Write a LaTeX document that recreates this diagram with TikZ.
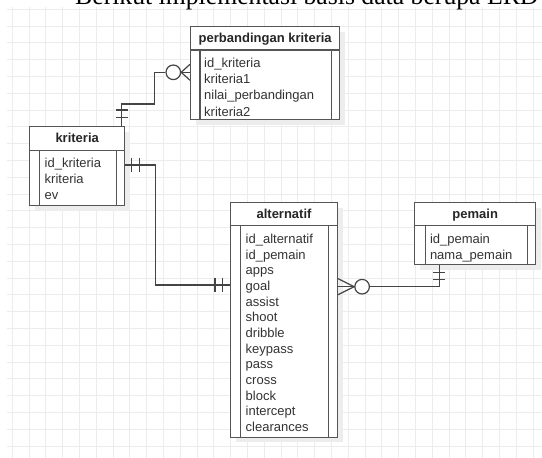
\documentclass[tikz,border=0pt]{standalone}
\usepackage{fontspec}
\setmainfont{Liberation Sans}
\newfontfamily\headfont{Liberation Serif}
\usepackage{tikz}
\usetikzlibrary{calc,shadows}

\definecolor{boxcol}{HTML}{555555}
\definecolor{linecol}{HTML}{444444}
\definecolor{txtcol}{HTML}{333333}
\definecolor{gridcol}{HTML}{ECECEC}

\tikzset{
	gridline/.style={color=gridcol, line width=0.9pt},
	entity/.style={draw=boxcol, fill=white, line width=1.1pt, anchor=north west, inner sep=0pt,
		drop shadow={shadow xshift=5pt, shadow yshift=-5pt, fill=black!7, opacity=1}},
	entityline/.style={draw=boxcol, line width=1.1pt},
	title/.style={anchor=base, inner sep=0pt, text=black!85, font=\fontsize{13}{15}\selectfont\bfseries},
	field/.style={anchor=base west, inner sep=0pt, text=txtcol, font=\fontsize{13}{15}\selectfont},
	rel/.style={draw=linecol, line width=1.2pt},
	zero/.style={circle, draw=linecol, fill=white, line width=1.2pt, minimum size=14.6pt, inner sep=0pt}
}

\begin{document}
\begin{tikzpicture}[x=1pt, y=-1pt]
			%%%%% START %%%%%
			\useasboundingbox (0,0) rectangle (542,458);
			\clip (0,0) rectangle (542,458);
			
			\foreach \i in {0,...,31}
				\draw[gridline] ({12.3+16.8*\i},7) -- ({12.3+16.8*\i},458);
			\foreach \j in {0,...,26}
				\draw[gridline] (7,{9.2+16.8*\j}) -- (542,{9.2+16.8*\j});
			
			\node[anchor=base west, inner sep=0pt, font=\headfont\fontsize{25.7}{30}\selectfont] (head) at (75,4) {Berikut implementasi basis data berupa ERD};
			
			% perbandingan kriteria
			\node[entity, minimum width=149.3pt, minimum height=93.3pt] (perb) at (190,26) {};
			\draw[entityline] ($(perb.north west)+(0,24)$) -- ($(perb.north east)+(0,24)$);
			\draw[entityline] ($(perb.north west)+(10,24)$) -- ($(perb.south west)+(10,0)$);
			\draw[entityline] ($(perb.north east)+(-9,24)$) -- ($(perb.south east)+(-9,0)$);
			\node[title] (perb-t) at ($(perb.north)+(0,16)$) {perbandingan kriteria};
			\foreach \f [count=\i from 0] in {id\_kriteria, kriteria1, nilai\_perbandingan, kriteria2}
				\node[field] (perb-\i) at ($(perb.north west)+(14,{41.5+16.2*\i})$) {\f};
			
			% kriteria
			\node[entity, minimum width=95.3pt, minimum height=79pt] (kriteria) at (29,126) {};
			\draw[entityline] ($(kriteria.north west)+(0,24.7)$) -- ($(kriteria.north east)+(0,24.7)$);
			\draw[entityline] ($(kriteria.north west)+(10.3,24.7)$) -- ($(kriteria.south west)+(10.3,0)$);
			\draw[entityline] ($(kriteria.north east)+(-9.3,24.7)$) -- ($(kriteria.south east)+(-9.3,0)$);
			\node[title] (kriteria-t) at ($(kriteria.north)+(0,16)$) {kriteria};
			\foreach \f [count=\i from 0] in {id\_kriteria, kriteria, ev}
				\node[field] (kriteria-\i) at ($(kriteria.north west)+(15.5,{41.5+16*\i})$) {\f};
			
			% alternatif
			\node[entity, minimum width=107pt, minimum height=234.7pt] (alternatif) at (230,202) {};
			\draw[entityline] ($(alternatif.north west)+(0,23.3)$) -- ($(alternatif.north east)+(0,23.3)$);
			\draw[entityline] ($(alternatif.north west)+(10.7,23.3)$) -- ($(alternatif.south west)+(10.7,0)$);
			\draw[entityline] ($(alternatif.north east)+(-9.3,23.3)$) -- ($(alternatif.south east)+(-9.3,0)$);
			\node[title] (alternatif-t) at ($(alternatif.north)+(0,16)$) {alternatif};
			\foreach \f [count=\i from 0] in {id\_alternatif, id\_pemain, apps, goal, assist, shoot, dribble, keypass, pass, cross, block, intercept, clearances}
				\node[field] (alternatif-\i) at ($(alternatif.north west)+(15.5,{41.5+15.67*\i})$) {\f};
			
			% pemain
			\node[entity, minimum width=120.7pt, minimum height=62pt] (pemain) at (414.3,202) {};
			\draw[entityline] ($(pemain.north west)+(0,23.3)$) -- ($(pemain.north east)+(0,23.3)$);
			\draw[entityline] ($(pemain.north west)+(11,23.3)$) -- ($(pemain.south west)+(11,0)$);
			\draw[entityline] ($(pemain.north east)+(-9,23.3)$) -- ($(pemain.south east)+(-9,0)$);
			\node[title] (pemain-t) at ($(pemain.north)+(0,16)$) {pemain};
			\foreach \f [count=\i from 0] in {id\_pemain, nama\_pemain}
				\node[field] (pemain-\i) at ($(pemain.north west)+(15.5,{41.5+16*\i})$) {\f};
			
			% kriteria -- perbandingan kriteria
			\coordinate (k-t) at ($(kriteria.north east)+(-3.6,0)$);
			\node[zero] (zk) at ($(perb.north west)+(-16.7,46.3)$) {};
			\coordinate (pk) at (perb.west |- zk);
			\draw[rel] (k-t) -- ++(0,-22) -| ($(zk.west)+(-11,0)$) -- (zk.west);
			\draw[rel] (zk.east) -- (pk);
			\draw[rel] ($(pk)+(0,-8)$) -- (zk.east) -- ($(pk)+(0,8)$);
			\draw[rel] ($(k-t)+(-6,-8.7)$) -- ++(12,0);
			\draw[rel] ($(k-t)+(-6,-16)$) -- ++(12,0);
			
			% kriteria -- alternatif
			\coordinate (k-r) at ($(kriteria.north east)+(0,39)$);
			\coordinate (a-l) at ($(alternatif.north west)+(0,83)$);
			\draw[rel] (k-r) -- ++(29.7,0) |- (a-l);
			\draw[rel] ($(k-r)+(6.4,-7)$) -- ++(0,14);
			\draw[rel] ($(k-r)+(14.4,-7)$) -- ++(0,14);
			\draw[rel] ($(a-l)+(-7.3,-7)$) -- ++(0,14);
			\draw[rel] ($(a-l)+(-15,-7)$) -- ++(0,14);
			
			% alternatif -- pemain
			\coordinate (a-r) at ($(alternatif.north east)+(0,84.7)$);
			\node[zero] (zp) at ($(a-r)+(24,0)$) {};
			\coordinate (p-b) at ($(pemain.south west)+(25,0)$);
			\draw[rel] (a-r) -- (zp.west);
			\draw[rel] ($(a-r)+(0,-8)$) -- (zp.west) -- ($(a-r)+(0,8)$);
			\draw[rel] (zp.east) -| (p-b);
			\draw[rel] ($(p-b)+(-6,7)$) -- ++(12,0);
			\draw[rel] ($(p-b)+(-6,14.3)$) -- ++(12,0);
			
			%%%%% END %%%%%
\end{tikzpicture}
\end{document}
